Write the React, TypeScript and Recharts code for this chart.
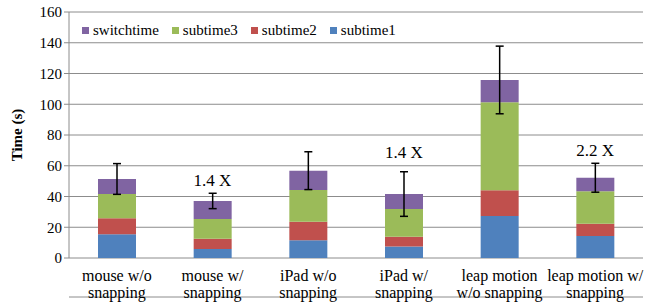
// Stacked task-time bars per input condition, with error bars on the totals
// and speed-up notes above the "with snapping" bars.

import { BarChart, Bar, XAxis, YAxis, CartesianGrid, ErrorBar, Legend, ReferenceDot } from 'recharts'

const categories = [
  'mouse w/o\nsnapping',
  'mouse w/\nsnapping',
  'iPad w/o\nsnapping',
  'iPad w/\nsnapping',
  'leap motion\nw/o snapping',
  'leap motion w/\nsnapping',
]
const subtime1 = [15.4, 5.9, 11.5, 7.4, 27.3, 14.3]
const subtime2 = [10.4, 6.7, 12.1, 6.5, 16.7, 8.0]
const subtime3 = [15.8, 12.8, 20.6, 18.0, 57.3, 21.1]
const switchtime = [9.8, 11.7, 12.6, 9.7, 14.5, 8.8]
const errors = [10, 5, 12.3, 14.5, 22, 9.4]
const notes = ['', '1.4 X', '', '1.4 X', '', '2.2 X']
const noteAt = [0, 50.5, 0, 69, 0, 70]
const yTicks = [0, 20, 40, 60, 80, 100, 120, 140, 160]
const boundaries = [0, 1, 2, 3, 4, 5, 6]

const SERIES = [
  { key: 'subtime1', color: '#4f81bd' },
  { key: 'subtime2', color: '#c0504d' },
  { key: 'subtime3', color: '#9bbb59' },
  { key: 'switchtime', color: '#8064a2' },
]

const data = categories.map((name, i) => ({
  name,
  subtime1: subtime1[i],
  subtime2: subtime2[i],
  subtime3: subtime3[i],
  switchtime: switchtime[i],
  err: errors[i],
}))

const FONT = 'Liberation Serif'

function CategoryTick({ x, y, payload }: any) {
  const lines = String(payload.value).split('\n')
  return (
    <text x={x} y={y} textAnchor="middle" style={{ fontFamily: FONT, fontSize: 16 }} fill="#000">
      {lines.map((l, i) => (
        <tspan key={i} x={x} dy={i === 0 ? 15 : 17}>
          {l}
        </tspan>
      ))}
    </text>
  )
}

function LegendBox() {
  // Excel lists the stack top-down
  const items = [...SERIES].reverse()
  return (
    <div style={{ display: 'flex', fontFamily: FONT, fontSize: 15, color: '#000', whiteSpace: 'nowrap' }}>
      {items.map((s) => (
        <div key={s.key} style={{ display: 'flex', alignItems: 'center', marginRight: 13 }}>
          <span style={{ width: 7, height: 7, background: s.color, marginRight: 4 }} />
          {s.key}
        </div>
      ))}
    </div>
  )
}

export default function App() {
  return (
    <div style={{ position: 'absolute', left: 0, top: 0, background: '#fff', fontFamily: FONT }}>
      <BarChart
        width={654}
        height={303}
        data={data}
        barSize={38}
        margin={{ top: 12, right: 11, bottom: 0, left: 0 }}
        style={{ fontFamily: FONT }}
      >
        <CartesianGrid vertical={false} stroke="#8c8c8c" xAxisId="cat" />
        <XAxis
          xAxisId="edges"
          type="number"
          domain={[0, 6]}
          ticks={boundaries}
          tick={false}
          height={6}
          stroke="#8c8c8c"
          tickSize={5}
        />
        <XAxis
          xAxisId="cat"
          dataKey="name"
          interval={0}
          axisLine={false}
          tickLine={false}
          height={39}
          tick={<CategoryTick />}
        />
        <YAxis
          domain={[0, 160]}
          ticks={yTicks}
          width={69}
          stroke="#8c8c8c"
          tickSize={5}
          tick={{ fill: '#000', style: { fontFamily: FONT, fontSize: 15 } }}
          label={{
            value: 'Time (s)',
            angle: -90,
            position: 'insideLeft',
            offset: 17,
            style: { fontFamily: FONT, fontSize: 15, fontWeight: 'bold', fill: '#000', textAnchor: 'middle' },
          }}
        />
        <Legend
          layout="horizontal"
          verticalAlign="middle"
          align="center"
          wrapperStyle={{ top: 22, left: 82, width: 'auto' }}
          content={<LegendBox />}
        />
        {SERIES.map((s) => (
          <Bar key={s.key} xAxisId="cat" dataKey={s.key} stackId="t" fill={s.color} isAnimationActive={false}>
            {s.key === 'switchtime' && (
              <ErrorBar dataKey="err" width={4} stroke="#000" strokeWidth={1.5} />
            )}
          </Bar>
        ))}
        {categories.map((c, i) =>
          notes[i] ? (
            <ReferenceDot
              key={c}
              xAxisId="cat"
              x={c}
              y={noteAt[i]}
              r={0}
              stroke="none"
              label={{ value: notes[i], position: 'center', fill: '#000', style: { fontFamily: FONT, fontSize: 17 } }}
            />
          ) : null
        )}
      </BarChart>
    </div>
  )
}
